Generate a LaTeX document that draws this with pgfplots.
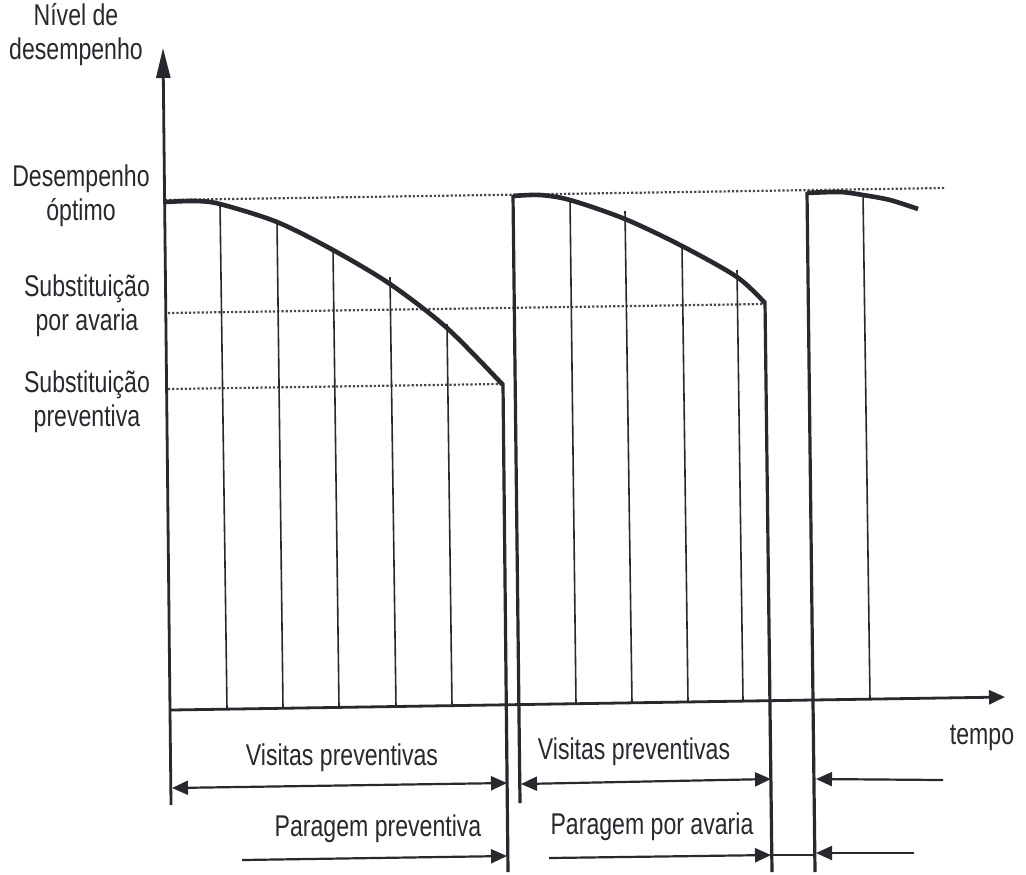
\documentclass[border=0pt]{standalone}
\usepackage{pgfplots}
\pgfplotsset{compat=1.18}
\usepackage{fontspec}
\setmainfont{Liberation Sans}[FakeStretch=0.77]
\usetikzlibrary{arrows.meta}

\definecolor{ink}{RGB}{40,40,46}

\tikzset{
  >={Triangle[length=8pt,width=7pt]},
  thin line/.style={ink, line width=0.8pt},
  thick line/.style={ink, line width=1.6pt},
  curve/.style={ink, line width=2.3pt, smooth},
  level/.style={ink!85, line width=1.1pt, densely dotted},
  span/.style={ink, line width=1.1pt},
  lbl/.style={text=ink, font=\fontsize{15}{17}\selectfont, align=center, inner sep=0pt},
}

\begin{document}
\begin{tikzpicture}
\begin{axis}[
    hide axis,
    scale only axis,
    width=513pt, height=437pt,
    xmin=0, xmax=1026, ymin=0, ymax=874,
    y dir=reverse,
    clip=false,
]
% frame that fixes the page size
\addplot[draw=none] coordinates {(0,0) (1026,874)};

% reference levels
\addplot[level] coordinates {(165,200) (945,188)};
\addplot[level] coordinates {(168,313) (765,304)};
\addplot[level] coordinates {(168,389) (500,384)};

% axes
\addplot[ink, line width=1.4pt, -{Triangle[length=15pt,width=7pt]}] coordinates {(171,805) (163,48)};
\addplot[ink, line width=1.4pt, -{Triangle[length=8pt,width=7pt]}] coordinates {(171,710) (1005,697)};

% cycle 1
\addplot[curve] coordinates {
    (165,202) (195,201) (220,204) (277,222) (333,250) (390,284)
    (447,328) (503,385)
};
\addplot[thick line] coordinates {(503,384) (508,872)};

% cycle 2
\addplot[thick line] coordinates {(520,803) (513,195)};
\addplot[curve] coordinates {
    (513,196) (540,195) (570,200) (625,219) (682,246) (737,277) (765,303)
};
\addplot[thick line] coordinates {(765,302) (772,872)};

% cycle 3
\addplot[thick line] coordinates {(815,872) (807,192)};
\addplot[curve] coordinates {
    (807,193) (840,192) (863,195) (890,200) (918,209)
};

% preventive visits
\addplot[thin line] coordinates {(220,204) (227,709)};
\addplot[thin line] coordinates {(277,221) (283,708)};
\addplot[thin line] coordinates {(333,249) (339,707)};
\addplot[thin line] coordinates {(390,277) (396,707)};
\addplot[thin line] coordinates {(447,324) (452,706)};
\addplot[thin line] coordinates {(570,199) (576,704)};
\addplot[thin line] coordinates {(625,211) (632,703)};
\addplot[thin line] coordinates {(682,246) (688,702)};
\addplot[thin line] coordinates {(737,270) (743,701)};
\addplot[thin line] coordinates {(863,194) (870,700)};

% interval arrows
\addplot[span, <->] coordinates {(172,788) (507,783)};
\addplot[span, <->] coordinates {(521,784) (771,779)};
\addplot[span, ->] coordinates {(943,780) (816,779)};
\addplot[span, ->] coordinates {(242,860) (507,856)};
\addplot[span, ->] coordinates {(549,858) (771,855)};
\addplot[span] coordinates {(772,855) (814,855)};
\addplot[span, ->] coordinates {(914,853) (816,853)};

% labels
\node[lbl] at (axis cs:76,35) {Nível de\\desempenho};
\node[lbl] at (axis cs:81,196) {Desempenho\\óptimo};
\node[lbl] at (axis cs:87,306) {Substituição\\por avaria};
\node[lbl] at (axis cs:87,402) {Substituição\\preventiva};
\node[lbl] at (axis cs:982,738) {tempo};
\node[lbl] at (axis cs:342,758) {Visitas preventivas};
\node[lbl] at (axis cs:634,752) {Visitas preventivas};
\node[lbl] at (axis cs:378,829) {Paragem preventiva};
\node[lbl] at (axis cs:652,827) {Paragem por avaria};
\end{axis}
\end{tikzpicture}
\end{document}
